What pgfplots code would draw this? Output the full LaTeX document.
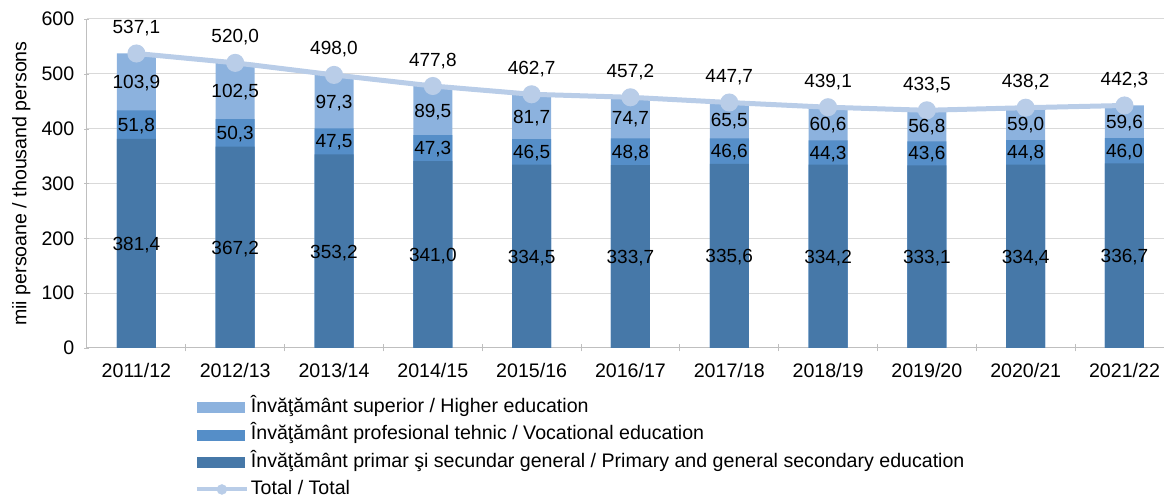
\documentclass[border=0pt]{standalone}
\usepackage{fontspec}
\setmainfont{Liberation Sans}
\usepackage{pgfplots}
\pgfplotsset{compat=1.18}
\usepackage{pgfplotstable}
\usetikzlibrary{calc}
\definecolor{cprim}{HTML}{4678A8}
\definecolor{cvoc}{HTML}{558EC8}
\definecolor{chigh}{HTML}{8CB2DE}
\definecolor{cline}{HTML}{B9CDE8}
\definecolor{cgrid}{HTML}{D9D9D9}
\definecolor{caxis}{HTML}{BFBFBF}
\newcommand\lbl{\fontsize{19.6}{23}\selectfont}
\newcommand\dlbl{\fontsize{19}{22}\selectfont}

\pgfplotstableread{
x prim voc high total
0 381.4 51.8 103.9 537.1
1 367.2 50.3 102.5 520.0
2 353.2 47.5 97.3 498.0
3 341.0 47.3 89.5 477.8
4 334.5 46.5 81.7 462.7
5 333.7 48.8 74.7 457.2
6 335.6 46.6 65.5 447.7
7 334.2 44.3 60.6 439.1
8 333.1 43.6 56.8 433.5
9 334.4 44.8 59.0 438.2
10 336.7 46.0 59.6 442.3
}\data

\begin{document}
\begin{tikzpicture}
\begin{axis}[
  name=ax,
  scale only axis, width=1077pt, height=329pt,
  xmin=-0.5, xmax=10.4, ymin=0, ymax=600,
  clip=false,
  /pgf/number format/assume math mode=true,
  ytick={0,100,...,600},
  xtick={0,...,10},
  xticklabels={2011/12,2012/13,2013/14,2014/15,2015/16,2016/17,2017/18,2018/19,2019/20,2020/21,2021/22},
  minor xtick={0.5,1.5,...,9.5},
  tick align=outside,
  major x tick style={draw=none},
  minor x tick style={draw=caxis, thick},
  minor tick length=7pt,
  ytick style={draw=caxis},
  major tick length=5pt,
  ymajorgrids, grid style={cgrid, line width=1pt},
  axis lines=left, axis line style={draw=caxis, line width=1pt, -},
  tick label style={font=\lbl},
  yticklabel style={inner sep=0pt, xshift=-10pt},
  xticklabel style={inner sep=0pt, yshift=-13pt},
  ylabel={mii persoane / thousand persons},
  ylabel style={font=\lbl, at={(axis description cs:-0.0610,0.5)}, anchor=center},
  nodes near coords={\pgfmathprintnumber[fixed,fixed zerofill,precision=1,use comma,assume math mode=true]{\pgfplotspointmeta}},
  every node near coord/.append style={font=\dlbl, text=black, inner sep=0pt},
  legend style={draw=none, fill=none, font=\lbl, at={(0.100,-0.147)}, anchor=north west,
    inner sep=0pt, row sep=5.3pt, nodes={inner sep=2pt, text height=14pt, text depth=4pt}},
  legend cell align=left,
]
% bars (overlapping cumulative)
\addplot[forget plot, ybar, bar width=39pt, bar shift=0pt, fill=chigh, draw=none, nodes near coords=]
  table[x=x, y=total] {\data};
\addplot[forget plot, ybar, bar width=39pt, bar shift=0pt, fill=cvoc, draw=none, nodes near coords=]
  table[x=x, y expr=\thisrow{prim}+\thisrow{voc}] {\data};
\addplot[forget plot, ybar, bar width=39pt, bar shift=0pt, fill=cprim, draw=none, nodes near coords=]
  table[x=x, y=prim] {\data};
% total line
\addplot[forget plot, cline, line width=5pt, mark=*, mark size=6.5pt, mark options={fill=cline, draw=none},
  point meta=explicit, every node near coord/.append style={anchor=base, yshift=20pt}]
  table[x=x, y=total, meta=total] {\data};
% segment labels
\addplot[forget plot, draw=none, mark=none, point meta=explicit,
  every node near coord/.append style={anchor=base, yshift=-7pt}]
  table[x=x, y expr=\thisrow{prim}/2, meta=prim] {\data};
\addplot[forget plot, draw=none, mark=none, point meta=explicit,
  every node near coord/.append style={anchor=base, yshift=-6.5pt}]
  table[x=x, y expr=\thisrow{prim}+\thisrow{voc}/2, meta=voc] {\data};
\addplot[forget plot, draw=none, mark=none, point meta=explicit,
  every node near coord/.append style={anchor=base, yshift=-6.5pt}]
  table[x=x, y expr=\thisrow{prim}+\thisrow{voc}+\thisrow{high}/2, meta=high] {\data};
% legend
\addlegendimage{legend image code/.code={\fill[chigh] (0pt,-5pt) rectangle (47pt,5pt);}}
\addlegendentry{Învăţământ superior / Higher education}
\addlegendimage{legend image code/.code={\fill[cvoc] (0pt,-5pt) rectangle (47pt,5pt);}}
\addlegendentry{Învăţământ profesional tehnic / Vocational education}
\addlegendimage{legend image code/.code={\fill[cprim] (0pt,-5pt) rectangle (47pt,5pt);}}
\addlegendentry{Învăţământ primar şi secundar general / Primary and general secondary education}
\addlegendimage{legend image code/.code={\draw[cline, line width=4pt] (0pt,0pt) -- (50pt,0pt); \fill[cline] (25pt,0pt) circle (5pt);}}
\addlegendentry{Total / Total}
\end{axis}
\pgfresetboundingbox
\path ($(ax.south west)+(-87pt,-151pt)$) rectangle ($(ax.north east)+(0pt,19pt)$);
\end{tikzpicture}
\end{document}
